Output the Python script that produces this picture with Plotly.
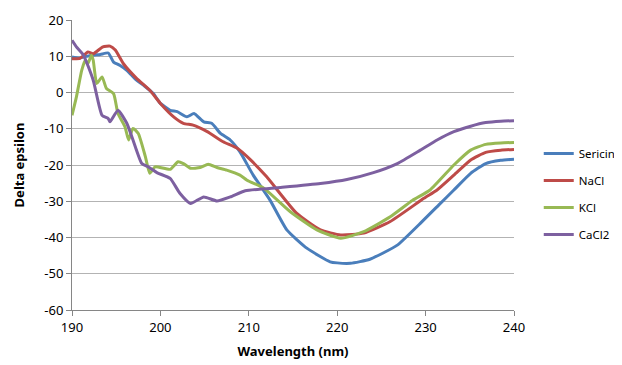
import plotly.graph_objects as go

sericin_x = [190, 190.8, 191.5, 192.4, 193.2, 194.1, 194.7, 195.4, 196.2, 197.3, 198.2, 199.2, 200, 201.1, 201.9, 203, 203.8, 204.9, 205.8, 206.8, 207.9, 209, 210.5, 212.4, 214.3, 216.6, 219.2, 220, 221.5, 223.7, 226.8, 229.4, 231.5, 233.2, 235.1, 236.8, 238.5, 240]
sericin_y = [9.8, 9.5, 9.9, 10.3, 10.5, 10.9, 8.4, 7.5, 6.1, 3.4, 1.8, -0.3, -3, -4.9, -5.3, -6.7, -5.8, -8.1, -8.5, -11.3, -13.1, -16.4, -22.8, -29.7, -37.9, -43, -46.7, -47, -47.1, -46, -42.1, -36.1, -31, -26.9, -22.3, -19.6, -18.7, -18.4]

nacl_x = [190, 190.9, 191.8, 192.4, 193.5, 194.3, 194.9, 195.8, 197.3, 198.8, 200, 201.5, 202.6, 203.7, 205.3, 207.1, 208.7, 210.2, 212, 215.4, 218.1, 220.4, 223, 226, 229.8, 231.3, 233.2, 235.1, 236.8, 238.5, 240]
nacl_y = [9.3, 9.4, 11.2, 10.7, 12.6, 12.8, 11.7, 8, 3.9, 0.6, -3, -6.7, -8.5, -9, -10.8, -13.6, -15.4, -18.6, -23.2, -33.3, -37.9, -39.3, -38.8, -35.6, -29.2, -26.9, -22.8, -18.6, -16.5, -15.9, -15.7]

kcl_x = [190, 190.5, 191.1, 191.5, 191.8, 192.2, 192.4, 192.8, 193.4, 193.9, 194.7, 195.2, 196, 196.4, 196.9, 197.5, 198.3, 198.8, 199.4, 201.1, 202, 202.6, 203.4, 204.5, 205.4, 206.4, 207.5, 209, 209.8, 211.7, 214.7, 217.7, 220.4, 223, 226, 228.5, 230.5, 233.2, 235.1, 236.8, 238.5, 240]
kcl_y = [-6.3, -1.2, 6.1, 8.9, 8, 10.3, 8.9, 2.5, 4.3, 1.1, -0.3, -5.8, -9.5, -13.1, -9.9, -11.3, -17.7, -22.3, -20.5, -21.2, -19.1, -19.6, -20.9, -20.7, -19.8, -20.7, -21.4, -22.8, -24.2, -26.4, -32.9, -37.9, -40.2, -38.4, -34.3, -29.8, -26.9, -20, -15.9, -14.3, -13.9, -13.8]

cacl2_x = [190, 190.5, 191.3, 192.4, 193.4, 194.1, 194.3, 195.2, 196.2, 196.9, 197.9, 198.6, 199.6, 201.1, 202.2, 203.4, 204.9, 206.4, 207.9, 209.6, 213.6, 218.1, 221.1, 224.1, 226.8, 229.4, 231.3, 233.2, 235.1, 236.8, 238.5, 240]
cacl2_y = [14.4, 12.6, 10.3, 3.4, -6.3, -7.2, -8.1, -4.9, -8.5, -13.1, -19.6, -20.5, -22.1, -23.7, -27.8, -30.6, -28.8, -29.9, -28.8, -27.1, -26.2, -25.1, -24, -22.1, -19.6, -15.9, -13.1, -10.8, -9.3, -8.3, -7.9, -7.8]

series = [
    ("Sericin", sericin_x, sericin_y, "#4a7ebb"),
    ("NaCl", nacl_x, nacl_y, "#be4b48"),
    ("KCl", kcl_x, kcl_y, "#98b954"),
    ("CaCl2", cacl2_x, cacl2_y, "#7d60a0"),
]

x_ticks = [190, 200, 210, 220, 230, 240]
y_ticks = [20, 10, 0, -10, -20, -30, -40, -50, -60]
y_tick_labels = ["20", "10", "0", "-10", "-20", "-30", "-40", "-50", "-60"]

fig = go.Figure()
for name, xs, ys, col in series:
    fig.add_trace(go.Scatter(x=xs, y=ys, name=name, mode="lines", legendgroup=name,
                             line=dict(color=col, width=3, shape="spline", smoothing=0.5)))

font = "Noto Sans, DejaVu Sans, sans-serif"
fig.update_layout(
    width=614, height=357,
    margin=dict(l=64, r=108, t=12, b=55, autoexpand=False),
    paper_bgcolor="white", plot_bgcolor="white",
    font=dict(family=font, size=13, color="#000000"),
    legend=dict(x=1.056, y=0.40, xanchor="left", yanchor="middle",
                font=dict(size=11.5), itemwidth=30, tracegroupgap=8,
                traceorder="grouped"),
    xaxis=dict(range=[190, 240], tickvals=x_ticks, showgrid=False, zeroline=False,
               showline=True, linecolor="#868686", linewidth=1, automargin=False,
               ticks="outside", ticklen=5, tickcolor="#868686",
               title=dict(text="<b>Wavelength (nm)</b>", font=dict(size=13), standoff=12)),
    yaxis=dict(range=[-60, 20], tickvals=y_ticks, ticktext=y_tick_labels, showgrid=True,
               gridcolor="#b3b3b3", automargin=False,
               gridwidth=1, zeroline=False, showline=True, linecolor="#868686",
               linewidth=1, ticks="outside", ticklen=5, tickcolor="#868686",
               title=dict(text="<b>Delta epsilon</b>", font=dict(size=13), standoff=16)),
)

fig.write_html("out.html")
